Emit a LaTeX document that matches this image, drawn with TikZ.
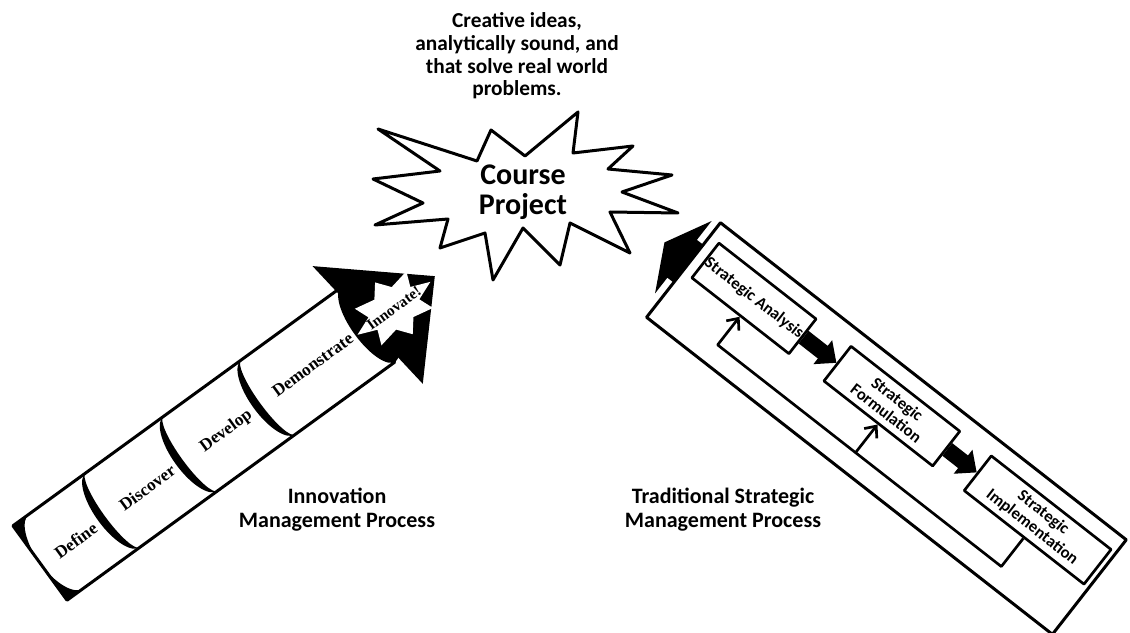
\documentclass[tikz,border=0pt]{standalone}
\usepackage{fontspec}
\setmainfont{Carlito}
\newfontfamily\segfont{Liberation Serif}
\usetikzlibrary{arrows.meta}

\begin{document}
\begin{tikzpicture}
[x=0.75pt, y=0.75pt, line join=round,
>={Straight Barb[length=7pt,width=12pt]},
caption/.style={font=\fontsize{16.5pt}{18pt}\selectfont\bfseries, align=center},
seglabel/.style={font=\segfont\fontsize{13pt}{15pt}\selectfont\bfseries, transform shape, inner sep=0pt},
frame/.style={draw, line width=2.25pt, fill=white},
stepbox/.style={draw, line width=2pt, fill=white, minimum height=33pt, inner sep=1pt,
  align=center, transform shape, font=\fontsize{12.5pt}{13.5pt}\selectfont\bfseries},
fat/.style={-{Triangle[length=13pt,width=22pt]}, line width=12pt},
fb/.style={->, line width=2pt}
]
  \useasboundingbox (0,0) rectangle (1130,632);

  % burst and text on top
  \node[font=\fontsize{16pt}{17pt}\selectfont\bfseries, align=center] (ideas) at (517,576)
    {Creative ideas,\\analytically sound, and\\that solve real world\\problems.};
  \draw[line width=2.25pt] (378,503) -- (440,461) -- (373,453) -- (423,429) -- (375,407)
    -- (448,413) -- (440,384) -- (485,399) -- (493,352) -- (523,404) -- (560,367)
    -- (570,409) -- (630,379) -- (610,420) -- (678,419) -- (622,440) -- (672,457)
    -- (608,463) -- (633,486) -- (573,479) -- (578,520) -- (525,476) -- (491,502)
    -- (477,471) -- cycle;
  \node[font=\fontsize{22.5pt}{22.5pt}\selectfont\bfseries, align=center] (proj) at (523,440)
    {Course\\Project};

  % innovation arrow
  \begin{scope}[shift={(40,69)}, rotate=36]
    \draw[frame] (0,-46) rectangle (405,46);
    \fill (0,46) -- (20,46) arc[start angle=90, end angle=270, x radius=20, y radius=46]
      -- (0,-46) -- cycle;
    \foreach \u in {90,186,282}
      \fill (\u,46) arc[start angle=90, end angle=270, x radius=18, y radius=46]
        arc[start angle=270, end angle=90, x radius=10, y radius=46];
    \fill (406,0) ellipse[x radius=17, y radius=46];
    \fill (395,80) -- (488,0) -- (415,-80) -- cycle;
    \fill[white, shift={(436,-2)}] plot[samples at={0,22.5,...,337.5}]
      ({(mod(\x,45)==0 ? 45 : 28)*cos(\x)}, {(mod(\x,45)==0 ? 32 : 20)*sin(\x)}) -- cycle;
    \node[seglabel] (define) at (42,-3) {Define};
    \node[seglabel] (discover) at (131,-2) {Discover};
    \node[seglabel] (develop) at (228,-3) {Develop};
    \node[seglabel] (demonstrate) at (337,0) {Demonstrate};
    \node[seglabel, font=\segfont\fontsize{11.5pt}{14pt}\selectfont\bfseries] (innovate) at (436,-2) {Innovate!};
  \end{scope}

  \node[caption] (imp) at (337,122) {Innovation\\Management Process};
  \node[caption] (tsm) at (723,122) {Traditional Strategic\\Management Process};

  % strategic management box
  \begin{scope}[shift={(683.5,362)}, rotate=-38]
    \fill (30,-16) -- (-8,-16) -- (-8,-36) -- (-32,10) -- (-8,56) -- (-8,32) -- (30,32) -- cycle;
    \draw[frame] (0,-60) rectangle (515,60);
    \node[stepbox, minimum width=91.5pt] (ana) at (73,21) {Strategic Analysis};
    \node[stepbox, minimum width=103.5pt] (form) at (248,21) {Strategic\\Formulation};
    \node[stepbox, minimum width=114pt] (impl) at (433,21) {Strategic\\Implementation};
    \coordinate (fbr) at (433,-38);
    \coordinate (fbm) at (248,-38);
    \coordinate (fbl) at (73,-38);
    \draw[fat] (ana) -- (form);
    \draw[fat] (form) -- (impl);
    \draw[fb] (impl.south) -- (fbr) -- (fbl) -- (ana.south);
    \draw[fb] (fbm) -- (form.south);
  \end{scope}
\end{tikzpicture}
\end{document}
